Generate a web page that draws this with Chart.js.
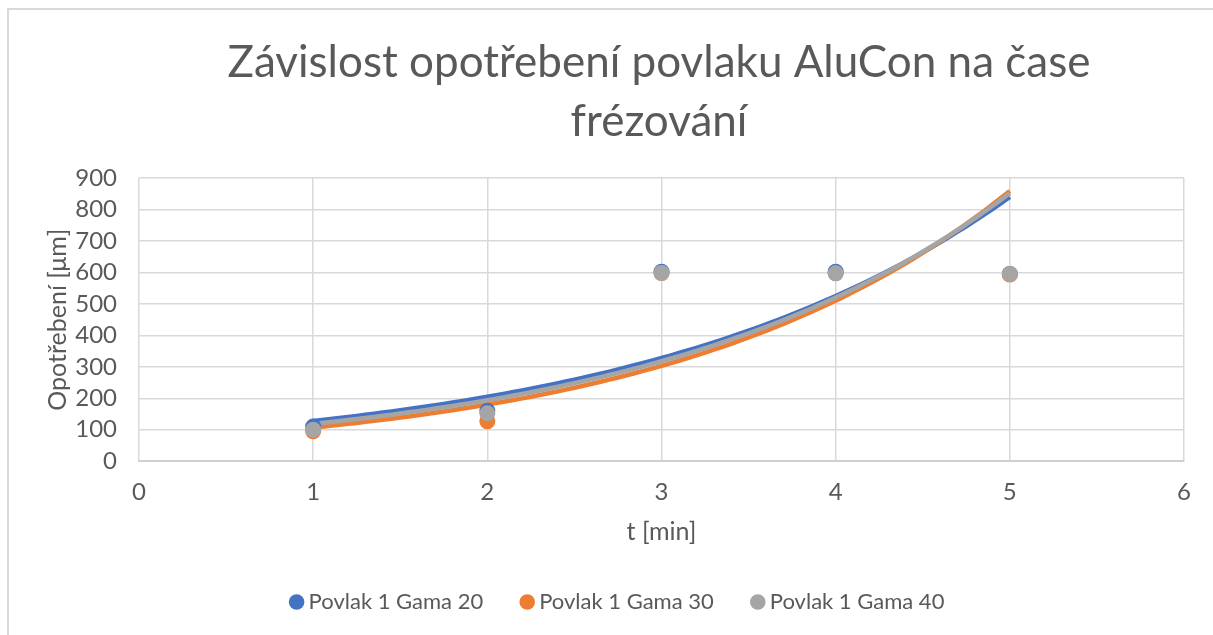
<!DOCTYPE html>
<html>
<head>
<meta charset="utf-8">
<script src="https://cdn.jsdelivr.net/npm/chart.js@4.4.1/dist/chart.umd.min.js"></script>
<style>
  html, body { margin: 0; padding: 0; background: #fff; overflow: hidden; }
  #frame { position: absolute; left: 7px; top: 8px; width: 1230px; height: 660px; border: 2px solid #d9d9d9; box-sizing: border-box; }
  #wrap { position: absolute; left: 0; top: 0; width: 1213px; height: 635px; }
</style>
</head>
<body>
<div id="frame"></div>
<div id="wrap"><canvas id="c" width="1213" height="635"></canvas></div>
<script>
const titleLines = ["Závislost opotřebení povlaku AluCon na čase", "frézování"];
const xTitle = "t [min]";
const yTitle = "Opotřebení [μm]";
const times = [1, 2, 3, 4, 5];
const seriesNames = ["Povlak 1 Gama 20", "Povlak 1 Gama 30", "Povlak 1 Gama 40"];
const gama20 = [110, 160, 602, 602, 595];
const gama30 = [95, 127, 598, 597, 593];
const gama40 = [100, 152, 598, 597, 595];
const seriesColors = ["#4472C4", "#ED7D31", "#A5A5A5"];
const yTicks = [0, 100, 200, 300, 400, 500, 600, 700, 800, 900];
const xTicks = [0, 1, 2, 3, 4, 5, 6];

// Exponential trendline (least squares on ln y), as the spreadsheet does
function expFit(xs, ys) {
  const n = xs.length;
  const ly = ys.map(v => Math.log(v));
  const mx = xs.reduce((a, b) => a + b, 0) / n;
  const my = ly.reduce((a, b) => a + b, 0) / n;
  let sxy = 0, sxx = 0;
  for (let i = 0; i < n; i++) { sxy += (xs[i] - mx) * (ly[i] - my); sxx += (xs[i] - mx) ** 2; }
  const b = sxy / sxx, a = my - b * mx;
  const pts = [];
  const x0 = Math.min(...xs), x1 = Math.max(...xs);
  for (let k = 0; k <= 80; k++) { const x = x0 + (x1 - x0) * k / 80; pts.push({ x, y: Math.exp(a + b * x) }); }
  return pts;
}

const seriesData = [gama20, gama30, gama40];
const datasets = [];
seriesData.forEach((vals, i) => {
  datasets.push({
    label: seriesNames[i],
    data: times.map((t, j) => ({ x: t, y: vals[j] })),
    showLine: false,
    pointRadius: 8,
    pointHoverRadius: 8,
    backgroundColor: seriesColors[i],
    borderColor: seriesColors[i],
    pointBorderWidth: 0,
    order: 10 - i
  });
});
seriesData.forEach((vals, i) => {
  datasets.push({
    label: "trend" + i,
    data: expFit(times, vals),
    showLine: true,
    pointRadius: 0,
    borderColor: seriesColors[i],
    backgroundColor: seriesColors[i],
    borderWidth: 4.5,
    tension: 0,
    order: 20 - i
  });
});

const FONT = "Lato";
const GRAY = "#595959";

const titlePlugin = {
  id: "titleText",
  afterLayout(chart) {
    if (chart.legend) { chart.legend.left += 10; chart.legend.right += 10; }
  },
  afterDraw(chart) {
    const ctx = chart.ctx;
    ctx.save();
    ctx.fillStyle = GRAY;
    ctx.font = "44px " + FONT;
    ctx.textAlign = "center";
    ctx.textBaseline = "alphabetic";
    ctx.fillText(titleLines[0], 659, 77);
    ctx.fillText(titleLines[1], 659, 136);
    ctx.restore();
  }
};

new Chart(document.getElementById("c"), {
  type: "scatter",
  data: { datasets },
  plugins: [titlePlugin],
  options: {
    responsive: false,
    animation: false,
    devicePixelRatio: 1,
    layout: { padding: { left: 36, right: 29, top: 178, bottom: 12 } },
    plugins: {
      title: { display: false },
      legend: {
        position: "bottom",
        labels: {
          filter: item => !item.text.startsWith("trend"),
          sort: (a, b) => a.datasetIndex - b.datasetIndex,
          usePointStyle: true,
          pointStyle: "circle",
          boxWidth: 2,
          boxHeight: 11,
          color: GRAY,
          font: { family: FONT, size: 22 },
          padding: 43
        }
      },
      tooltip: { enabled: false }
    },
    scales: {
      x: {
        type: "linear",
        min: 0, max: 6,
        afterBuildTicks: s => { s.ticks = xTicks.map(v => ({ value: v })); },
        grid: { color: "#d9d9d9", lineWidth: 1.5, drawTicks: false },
        border: { color: "#d0d0d0", width: 2 },
        ticks: { color: GRAY, font: { family: FONT, size: 24 }, padding: 17, autoSkip: false, maxRotation: 0 },
        title: { display: true, text: xTitle, color: GRAY, font: { family: FONT, size: 25 }, padding: { top: -7, bottom: 1 } }
      },
      y: {
        type: "linear",
        min: 0, max: 900,
        afterBuildTicks: s => { s.ticks = yTicks.map(v => ({ value: v })); },
        afterFit: s => { s.width = 139 - 36; },
        grid: { color: "#d9d9d9", lineWidth: 1.5, drawTicks: false },
        border: { display: false },
        ticks: { color: GRAY, font: { family: FONT, size: 24 }, padding: 22, autoSkip: false },
        title: { display: true, text: yTitle, color: GRAY, font: { family: FONT, size: 25 }, padding: { top: 7, bottom: 0 } }
      }
    }
  }
});
</script>
</body>
</html>
